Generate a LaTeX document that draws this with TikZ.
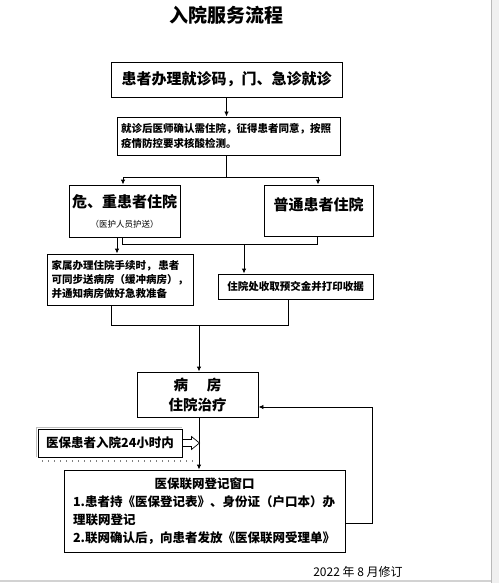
\documentclass[tikz,border=0pt]{standalone}
\usepackage{fontspec}
\setmainfont{Noto Sans CJK SC}
\usetikzlibrary{arrows.meta}
\newcommand{\fs}[2]{\fontsize{#1}{#2}\selectfont}
\tikzset{
	box/.style={draw, line width=0.9pt, inner sep=0pt, align=center},
	flow/.style={line width=0.9pt, -{Latex[length=5pt,width=4.5pt]}},
	link/.style={line width=0.9pt},
}

\begin{document}
\begin{tikzpicture}[x=1pt, y=-1pt]
\useasboundingbox (0,0) rectangle (499,583);

% page edges
\fill[gray!12] (491,0) rectangle (499,583);
\draw[gray!55, line width=1pt] (491,0) -- (491,583);
\draw[gray!35, line width=1.5pt] (0,581) -- (491,581);

\node[font=\bfseries\fs{19}{19}] (title) at (226,15) {入院服务流程};

\node[box, minimum width=231pt, minimum height=35pt, font=\bfseries\fs{15}{15}] (visit) at (226.5,79.5) {患者办理就诊码，门、急诊就诊};
\node[box, minimum width=223pt, minimum height=38pt, text width=215pt, align=left, font=\bfseries\fs{10.5}{15}] (check) at (228.5,136) {就诊后医师确认需住院，征得患者同意，按照\\疫情防控要求核酸检测。};

\node[box, minimum width=111pt, minimum height=52pt, font=\bfseries\fs{15}{20}] (crit) at (124.5,211) {危、重患者住院\\{\mdseries\fs{8.5}{9}（医护人员护送）}};
\node[box, minimum width=109pt, minimum height=51pt, text depth=14pt, font=\bfseries\fs{15}{15}] (normal) at (318.5,210.5) {普通患者住院};

\node[box, minimum width=146pt, minimum height=51pt, text width=137pt, align=left, font=\bfseries\fs{10.5}{14}] (family) at (120,279.5) {家属办理住院手续时，\hspace{2pt}患者\\可同步送病房（缓冲病房），\\并通知病房做好急救准备};
\node[box, minimum width=155pt, minimum height=25pt, font=\bfseries\fs{10.5}{12}] (cashier) at (295.5,286.5) {住院处收取预交金并打印收据};

\node[box, minimum width=121pt, minimum height=45pt, font=\bfseries\fs{14.5}{20}] (ward) at (197.5,394.5) {病\hspace{19pt}房\\住院治疗};

\node[box, minimum width=144pt, minimum height=28pt, font=\bfseries\fs{12.5}{14}] (insured) at (110,443) {医保患者入院24小时内};
\draw[gray!50, line width=1pt] ([shift={(-1.2,0)}]insured.south west) -- ([shift={(-1.2,-1.2)}]insured.north west) -- ([shift={(0,-1.2)}]insured.north east);
\draw[gray, line width=1.2pt, dash pattern=on 1.2pt off 4.8pt] (42,461) -- (195,461);

\node[box, minimum width=281pt, minimum height=82pt, text width=263pt, align=left, font=\bfseries\fs{12.5}{18}] (register) at (204.5,511) {{\centering 医保联网登记窗口\par}1.患者持《医保登记表》、身份证（户口本）办\\理联网登记\\2.联网确认后，向患者发放《医保联网受理单》};

\node[font=\fs{12}{12}] (date) at (358,572) {2022 年 8 月修订};

% connectors
\coordinate (splitL) at (123,177);
\coordinate (splitR) at (318,177);
\coordinate (joinL) at (122,244);
\coordinate (joinR) at (317,244);
\coordinate (joinM) at (244,244);
\coordinate (wardL) at (111,325);
\coordinate (wardR) at (288,325);
\coordinate (wardM) at (199,325);
\coordinate (loopB) at (372,523);
\coordinate (loopT) at (372,407);

\draw[flow] (visit.south) -- (visit.south |- check.north);
\draw[link] (visit.south |- check.south) -- (visit.south |- splitL);
\draw[link] (splitL) -- (splitR);
\draw[flow] (splitL) -- (splitL |- crit.north);
\draw[flow] (splitR) -- (splitR |- normal.north);

\draw[flow] ([xshift=-7.5pt]crit.south) -- ([xshift=-7.5pt]crit.south |- family.north);
\draw[link] (joinL |- crit.south) -- (joinL) -- (joinR) -- (joinR |- normal.south);
\draw[flow] (joinM) -- (joinM |- cashier.north);

\draw[link] (wardL |- family.south) -- (wardL) -- (wardR) -- (wardR |- cashier.south);
\draw[flow] (wardM) -- (wardM |- ward.north);
\draw[flow] (wardM |- ward.south) -- (wardM |- register.north);

\draw[flow] (loopB -| register.east) -- (loopB) -- (loopT) -- (loopT -| ward.east);

% hollow arrow
\draw[line width=0.7pt, fill=white] (insured.east) +(0,-3.5) -- +(9,-3.5) -- +(9,-6.5) -- +(17,0) -- +(9,6.5) -- +(9,3.5) -- +(0,3.5) -- cycle;
\end{tikzpicture}
\end{document}
